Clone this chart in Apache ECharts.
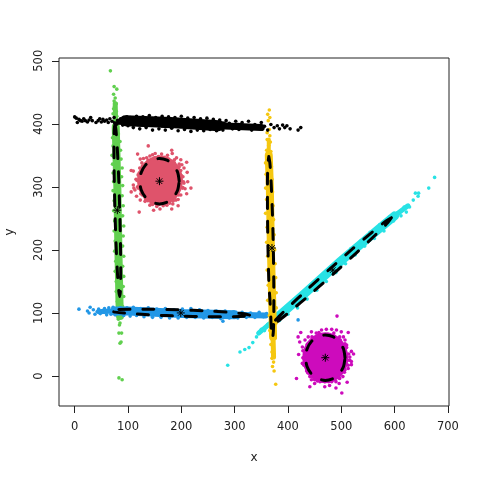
<!DOCTYPE html>
<html><head><meta charset="utf-8">
<style>html,body{margin:0;padding:0;background:#fff}#c{width:480px;height:480px}</style>
<script src="https://cdn.jsdelivr.net/npm/echarts@6/dist/echarts.min.js"></script>
</head><body><div id="c"></div>
<script>
const xTicks=[0,100,200,300,400,500,600,700];
const yTicks=[0,100,200,300,400,500];

const blackPts=[[0,411],[3,409],[5,402],[8,407],[11,405],[14,404],[17,408],[20,405],[24,403],[27,406],[30,410],[33,405],[40,402],[44,405],[47,408],[50,403],[53,407],[56,404],[60,406],[63,402],[66,408],[70,404],[74,410],[78,399],[82,402],[86,408],[90,398],[94,405],[98,411],[100,397],
[104,410],[110,394],[116,412],[122,392],[128,411],[134,394],[140,413],[146,390],[152,410],[158,392],[164,412],[170,390],[176,411],[182,393],[188,410],[194,389],[200,412],[206,391],[212,409],[218,388],[224,410],[230,390],[236,408],[242,389],[248,409],[254,391],[260,407],[266,389],[272,406],[278,390],[284,405],
[290,401],[296,392],[302,404],[308,391],[314,402],[320,395],[326,404],[332,390],[338,399],[344,393],[350,402],[356,396],[362,390],[368,399],[374,394],[380,397],[384,392],[390,398],[394,394],[398,397],[404,392],[419,390],[424,394]];
const blackCore=[[95,405],[180,402],[270,397]];
const blackTail=[[270,397],[350,394]];

const pinkPts=[[138,365],[118,352],[126,338],[106,326],[110,325],[119,319],[110,303],[111,298],[106,292],[116,285],[123,279],[121,260],[148,263],[160,265],[182,265],[194,270],[184,273],[210,289],[218,298],[207,297],[212,308],[204,308],[211,323],[205,330],[201,335],[210,339],[199,343],[191,346],[182,358],[183,353],[174,350],[163,352],[151,353],[141,349],[135,346],[194,280],[173,271],[154,269],[141,271],[132,277],[113,295],[129,345],[122,330],[115,312],[118,300],[127,287],[137,278],[146,272],[166,270],[178,274],[190,279],[199,287],[203,299],[200,318],[196,336],[187,343],[157,348],[146,351],[168,347],[123,344],
[203,316],[199,326],[196,332],[187,338],[176,344],[164,347],[150,346],[138,342],[127,333],[121,322],[117,310],[119,298],[124,289],[133,281],[145,274],[158,272],[171,272],[185,278],[195,287],[202,298],[205,306]];
const pinkCore=[[160,310]];

const greenPts=[[67,484],[74,459],[79,455],[73,447],[76,441],[74,436],[78,432],[75,428],[73,424],[78,420],[72,416],[79,412],[74,388],[82,384],[71,378],[85,372],[72,365],[86,358],[70,350],[87,344],[71,336],[89,330],[72,322],[88,316],[73,308],[90,302],[72,294],[89,286],[74,278],[91,270],[73,262],[90,254],[75,246],[92,238],[74,230],[91,222],[76,214],[90,206],[75,198],[92,190],[77,182],[90,174],[76,166],[92,158],[78,150],[91,142],[78,134],[92,126],[80,118],[90,110],[82,90],[85,84],[84,81],[83,68],[88,68],[87,54],[85,52],[83,-3],[89,-6]];
const greenCoreTop=[[76,432],[77,395]];
const greenCore=[[77,395],[80,300],[82,200],[84,118],[85,95]];

const bluePts=[[8,106],[24,103],[27,100],[29,109],[35,105],[38,98],[42,102],[45,106],[48,99],[52,104],[56,107],[60,97],[64,108],[68,98],[72,109],[76,97],[80,106],[86,108],[92,96],[98,108],[104,95],[110,109],[116,96],[124,107],[130,94],[138,108],[146,93],[154,106],[162,93],[170,107],[178,92],[186,105],[194,92],[202,106],[210,93],[218,107],[226,93],[234,105],[242,92],[250,104],[258,93],[266,103],[274,91],[278,87],[282,103],[290,92],[298,102],[306,92],[314,101],[322,93],[330,100],[338,93],[346,101],[354,94],[360,99],[419,89]];
const blueHead=[[45,102],[75,103]];
const blueCore=[[75,103],[100,103],[200,99],[300,97]];
const blueTail=[[300,97],[358,96]];

const cyanPts=[[287,17],[310,38],[319,42],[327,45],[334,53],[341,62],[346,68],[350,74],[356,72],[362,82],[368,78],[376,94],[384,88],[392,104],[400,98],[410,116],[418,108],[428,130],[436,122],[446,144],[454,136],[464,158],[472,150],[482,174],[490,164],[500,188],[508,178],[518,202],[526,192],[536,214],[544,206],[554,228],[562,218],[572,240],[580,230],[590,252],[598,246],[604,258],[612,254],[618,268],[622,260],[628,268],[635,279],[639,290],[644,285],[645,290],[664,298],[675,315]];
const cyanHead=[[345,68],[380,93]];
const cyanCore=[[380,93],[430,130],[500,183],[570,233],[600,254]];
const cyanTail=[[600,254],[625,270]];

const magentaPts=[[419,62],[424,69],[416,-4],[441,-17],[469,-17],[478,-15],[490,-19],[501,-27],[511,-10],[513,69],[492,95],[523,35],[519,39],[519,23],[519,18],[513,12],[510,49],[507,57],[497,62],[500,70],[491,73],[482,74],[472,74],[463,73],[453,68],[444,70],[438,62],[432,57],[422,54],[427,46],[420,34],[427,20],[435,23],[432,36],[438,10],[441,-1],[450,-6],[450,-12],[460,-9],[466,-6],[485,-6],[497,-4],[503,-1],[490,-9],[507,10],[512,25],[444,-6],[437,5],[430,28],[428,40],[516,30],[510,18],[504,62],[486,68],[458,69],[445,62],[436,50],[496,-12],[476,-9],[455,-8],
[514,35],[510,45],[507,51],[498,57],[487,63],[475,66],[461,65],[449,61],[438,52],[432,41],[428,29],[430,17],[435,8],[444,0],[456,-7],[469,-9],[482,-9],[496,-3],[506,6],[513,17],[516,25]];
const magentaCore=[[470,29]];

const yellowPts=[[365,422],[362,415],[366,410],[363,405],[365,391],[361,386],[366,381],[361,375],[367,371],[364,366],[360,358],[368,356],[358,338],[369,332],[359,320],[370,312],[358,298],[371,292],[360,280],[372,270],[358,258],[373,248],[361,236],[374,224],[360,212],[375,200],[362,190],[376,178],[361,168],[377,156],[363,144],[378,132],[362,120],[378,108],[365,96],[378,84],[366,72],[376,60],[368,50],[372,45],[370,38],[374,33],[370,28],[373,22],[371,15],[374,8],[377,-13]];
const yellowHead=[[364,375],[364,350]];
const yellowCore=[[364,350],[366,300],[368,200],[371,100],[372,62]];
const yellowTail=[[372,62],[373,30]];

const centers=[[159,309],[470,29],[80,263],[370,203],[199,100],[484,168]];

const ellipseBlack=[[325,396],[315,398.2],[287,400.7],[245,403.1],[195,405],[145,406.1],[103,406.3],[75,405.6],[65,404],[75,401.8],[103,399.3],[145,396.9],[195,395],[245,393.9],[287,393.7],[315,394.4],[325,396]];
const ellipsePink=[[196,309],[193.2,322.8],[185.2,334.5],[173.2,342.3],[159,345],[144.8,342.3],[132.8,334.5],[124.8,322.8],[122,309],[124.8,295.2],[132.8,283.5],[144.8,275.7],[159,273],[173.2,275.7],[185.2,283.5],[193.2,295.2],[196,309]];
const ellipseMagenta=[[507,29],[504.2,42.8],[496.2,54.5],[484.2,62.3],[470,65],[455.8,62.3],[443.8,54.5],[435.8,42.8],[433,29],[435.8,15.2],[443.8,3.5],[455.8,-4.3],[470,-7],[484.2,-4.3],[496.2,3.5],[504.2,15.2],[507,29]];
const ellipseGreen=[[75.5,400],[77.5,389.6],[80,360],[82.5,315.5],[84.5,263],[85.9,210.5],[86.4,166],[85.9,136.4],[84.5,126],[82.5,136.4],[80,166],[77.5,210.5],[75.5,263],[74.1,315.5],[73.6,360],[74.1,389.6],[75.5,400]];
const ellipseYellow=[[364,348],[366.2,337],[368.5,306],[370.8,259],[372.5,204],[373.4,149],[373.5,102],[372.6,71],[371,60],[368.8,71],[367.5,102],[364.2,149],[362.5,204],[361.6,259],[361.5,306],[362.4,337],[364,348]];
const ellipseBlue=[[328,96.5],[318,98.7],[289.6,101],[247.1,103.3],[197,105],[146.9,105.9],[104.4,106],[76,105.1],[66,103.5],[76,101.3],[104.4,99],[146.9,96.7],[197,95],[247.1,94.1],[289.6,94],[318,94.9],[328,96.5]];
const ellipseCyan=[[594,251],[584,246],[558.5,228.6],[521.4,201.9],[478.2,169.6],[435.6,136.7],[400.1,108.4],[377,89],[370,81],[380,86],[405.5,103.4],[442.6,130.1],[485.8,162.4],[528.4,195.3],[563.9,223.6],[587,243],[594,251]];

const COL={black:'#000000',pink:'#DF536B',green:'#61D04F',blue:'#2297E6',cyan:'#28E2E5',magenta:'#CD0BBC',yellow:'#F5C710'};
const FONT='"DejaVu Sans"';
const pts=(data,c,z)=>({type:'scatter',data,symbol:'circle',symbolSize:3.6,z,silent:true,itemStyle:{color:c,opacity:1}});
const band=(data,c,w,z)=>({type:'line',data,showSymbol:false,symbol:'none',z,silent:true,lineStyle:{color:c,width:w,cap:'round',join:'round',opacity:1}});
const disc=(data,c,s,z)=>({type:'scatter',data,symbol:'circle',symbolSize:s,z,silent:true,itemStyle:{color:c,opacity:1}});
const ring=(data)=>({type:'line',data,showSymbol:false,symbol:'none',smooth:0.25,z:20,silent:true,
  lineStyle:{color:'#000',width:3,type:[11,13],cap:'round',join:'round',opacity:1}});

const chart=echarts.init(document.getElementById('c'),null,{renderer:'canvas'});
chart.setOption({
  animation:false,backgroundColor:'#fff',
  grid:{left:59,top:58,width:390,height:348,outerBoundsMode:'none',containLabel:false,show:true,borderColor:'#222',borderWidth:1,backgroundColor:'transparent'},
  xAxis:{type:'value',min:-29.4,max:702,name:'x',nameLocation:'middle',nameGap:46,
    nameTextStyle:{fontFamily:FONT,fontSize:12,color:'#222'},
    splitLine:{show:false},axisLine:{show:false,onZero:false},
    axisTick:{show:true,length:7,lineStyle:{color:'#222',width:1},customValues:xTicks},
    axisLabel:{fontFamily:FONT,fontSize:11.5,color:'#222',margin:15,customValues:xTicks,showMinLabel:true,showMaxLabel:true}},
  yAxis:{type:'value',min:-47.6,max:504.4,name:'y',nameLocation:'middle',nameGap:43,
    nameTextStyle:{fontFamily:FONT,fontSize:12,color:'#222'},
    splitLine:{show:false},axisLine:{show:false,onZero:false},
    axisTick:{show:true,length:7,lineStyle:{color:'#222',width:1},customValues:yTicks},
    axisLabel:{fontFamily:FONT,fontSize:11.5,color:'#222',rotate:90,margin:14,customValues:yTicks,showMinLabel:true,showMaxLabel:true}},
  series:[
    band(greenCoreTop,COL.green,5,3),band(greenCore,COL.green,8,3),pts(greenPts,COL.green,3),
    disc(pinkCore,COL.pink,[46,50],4),pts(pinkPts,COL.pink,4),
    band(blueHead,COL.blue,5,5),band(blueCore,COL.blue,9,5),band(blueTail,COL.blue,6,5),pts(bluePts,COL.blue,5),
    band(cyanHead,COL.cyan,5,6),band(cyanCore,COL.cyan,9,6),band(cyanTail,COL.cyan,5,6),pts(cyanPts,COL.cyan,6),
    disc(magentaCore,COL.magenta,[46,51],7),pts(magentaPts,COL.magenta,7),
    band(yellowHead,COL.yellow,4,8),band(yellowCore,COL.yellow,8,8),band(yellowTail,COL.yellow,5,8),pts(yellowPts,COL.yellow,8),
    band(blackCore,COL.black,11,9),band(blackTail,COL.black,7,9),pts(blackPts,COL.black,9),
    ring(ellipseBlack),ring(ellipsePink),ring(ellipseMagenta),ring(ellipseGreen),ring(ellipseYellow),ring(ellipseBlue),ring(ellipseCyan),
    {type:'scatter',data:centers,z:21,silent:true,symbol:'path://M5 0L5 10M0 5L10 5M1.5 1.5L8.5 8.5M1.5 8.5L8.5 1.5',symbolSize:8,
      itemStyle:{color:'transparent',borderColor:'#000',borderWidth:1,opacity:1}}
  ]
});
</script></body></html>
